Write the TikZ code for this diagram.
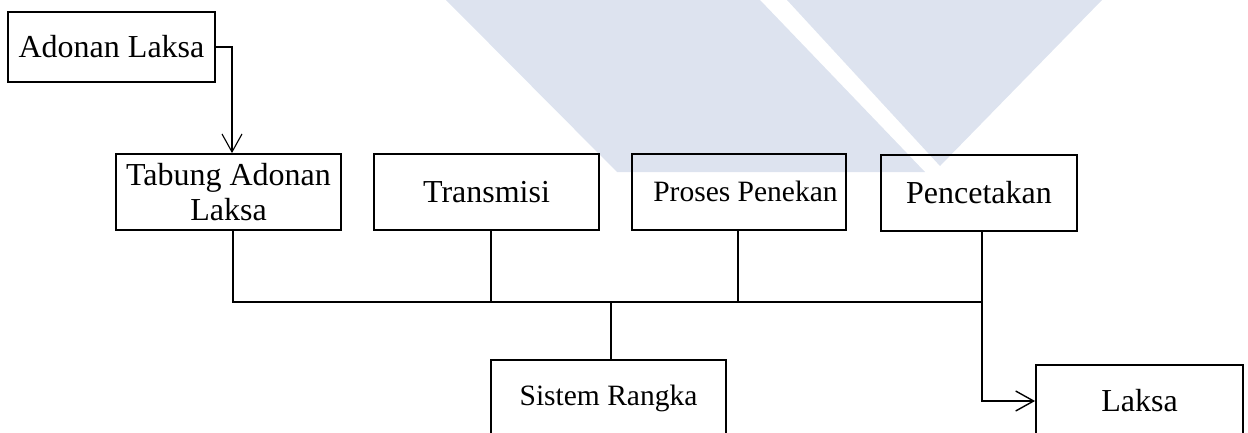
\documentclass[tikz,border=0pt]{standalone}
\usepackage{fontspec}
\setmainfont{Liberation Serif}
\usetikzlibrary{arrows.meta}
\definecolor{wm}{RGB}{221,227,239}
\begin{document}
\begin{tikzpicture}[x=1pt,y=-1pt,
  box/.style={draw, line width=1.8pt, inner sep=0pt, align=center, font=\fontsize{32}{36}\selectfont},
  smalltext/.style={font=\fontsize{29.5}{34}\selectfont},
  conn/.style={line width=1.6pt},
  arr/.style={line width=1.3pt, -{Straight Barb[length=18pt,width=20pt]}}]
\useasboundingbox (0,0) rectangle (1248,432);
\clip (0,0) rectangle (1248,432);
% watermark
\fill[wm] (446,0) -- (617,172) -- (925,172) -- (760,0) -- cycle;
\fill[wm] (787,0) -- (940,166) -- (1102,0) -- cycle;
% boxes
\node[box, minimum width=207pt, minimum height=70pt] (adonan) at (111.5,47) {Adonan Laksa};
\node[box, minimum width=225pt, minimum height=76pt] (tabung) at (228.5,192) {Tabung Adonan\\[-1pt]Laksa};
\node[box, minimum width=225pt, minimum height=76pt] (trans) at (486.5,192) {Transmisi};
\node[box, minimum width=214pt, minimum height=76pt] (proses) at (739,192) {};
\node[smalltext, inner sep=0pt] (prosesT) at (745.5,191) {Proses Penekan};
\node[box, minimum width=196pt, minimum height=76pt] (penc) at (979,193) {Pencetakan};
\node[box, smalltext, minimum width=235pt, minimum height=77pt] (sistem) at (608.5,398.5) {Sistem Rangka};
\node[box, minimum width=207pt, minimum height=72pt] (laksa) at (1139.5,401) {Laksa};
% junctions
\coordinate (aT) at (232,0);
\coordinate (jT) at (233,302);
\coordinate (jTr) at (491,302);
\coordinate (jP) at (738,302);
\coordinate (jS) at (611,302);
\coordinate (jPc) at (982,302);
% connectors
\draw[arr, line width=1.1pt] (adonan.east) -| (tabung.north -| aT);
\draw[conn] (tabung.south -| jT) -- (jT) -- (jPc) -- (penc.south -| jPc);
\draw[conn] (trans.south -| jTr) -- (jTr);
\draw[conn] (proses.south -| jP) -- (jP);
\draw[conn] (jS) -- (sistem.north -| jS);
\draw[arr, line width=1.4pt] (jPc) |- (laksa.west);
\end{tikzpicture}
\end{document}
